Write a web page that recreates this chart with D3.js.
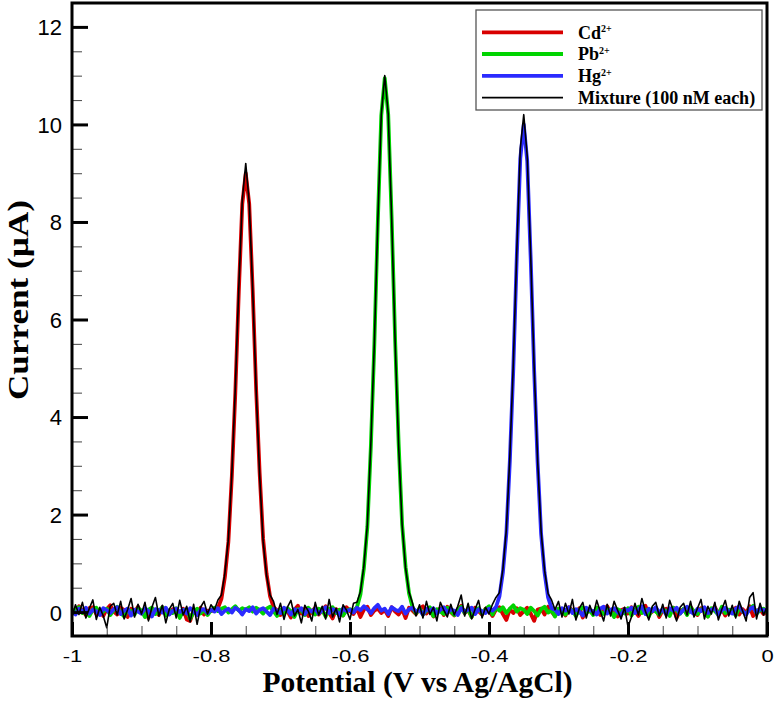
<!DOCTYPE html>
<html>
<head>
<meta charset="utf-8">
<script src="https://cdn.jsdelivr.net/npm/d3@7"></script>
<style>
  html, body { margin: 0; padding: 0; background: #fff; }
  svg { display: block; }
</style>
</head>
<body>
<svg id="chart" width="774" height="706"></svg>
<script>
// ---------- DATA ----------
// Potential grid: -1 V to 0 V in 0.005 V steps (201 points)
const potentialStart = -1;
const potentialStep = 0.005;

// Current (µA) for each series, one value per potential point
const cdCurrent = [
  0.05,-0.02,0.12,0.03,-0.06,0.08,0.10,-0.04,0.02,-0.08,
  0.06,0.14,0.01,-0.05,0.09,0.04,-0.10,0.07,0.00,0.11,
  -0.03,0.05,-0.12,0.08,0.02,-0.06,0.10,0.03,-0.04,0.06,
  0.01,-0.08,0.07,-0.15,-0.18,0.04,-0.02,0.09,-0.05,0.03,
  0.02,0.05,0.08,0.27,0.72,1.44,2.79,4.50,6.57,8.37,
  9.00,8.37,6.60,4.55,2.85,1.50,0.78,0.32,0.10,0.04,
  -0.06,0.08,0.02,-0.11,0.05,0.13,-0.03,0.07,-0.08,0.01,
  0.09,-0.05,0.04,0.12,-0.02,-0.13,0.06,0.03,-0.07,0.10,
  0.02,-0.04,0.08,-0.10,0.05,0.11,-0.06,0.03,0.07,-0.02,
  0.04,-0.08,0.10,0.01,-0.05,0.06,-0.12,0.09,0.03,-0.04,
  0.07,0.12,-0.03,0.05,-0.09,0.02,0.08,-0.06,0.11,0.00,
  -0.07,0.06,0.13,-0.02,0.04,-0.10,0.09,0.02,-0.05,0.07,
  0.03,-0.08,0.05,0.10,-0.04,-0.16,0.06,-0.02,0.08,-0.06,
  0.02,0.09,-0.03,-0.18,0.05,0.07,-0.05,0.11,0.01,-0.08,
  0.06,0.03,-0.07,0.10,0.04,-0.02,0.08,-0.11,0.05,0.02,
  -0.04,0.09,-0.06,0.03,0.12,-0.01,0.06,-0.09,0.04,0.07,
  -0.03,0.10,0.02,-0.08,0.05,0.13,-0.05,0.01,0.08,-0.10,
  0.04,0.07,-0.02,0.09,-0.12,0.03,0.06,-0.04,0.11,0.00,
  -0.06,0.08,0.02,-0.09,0.05,0.10,-0.03,0.07,-0.07,0.04,
  0.01,0.09,-0.05,0.06,-0.02,0.12,-0.08,0.03,0.05,-0.04,
  0.02
];

const pbCurrent = [
  -0.04,0.06,0.10,-0.02,0.03,-0.08,0.05,0.09,-0.03,0.01,
  0.07,-0.06,0.04,0.11,-0.01,-0.09,0.06,0.02,-0.05,0.08,
  0.03,-0.10,0.05,0.09,-0.04,0.02,0.10,-0.07,0.04,-0.02,
  0.08,-0.12,0.03,0.06,-0.14,0.01,0.07,-0.03,0.05,-0.06,
  0.04,0.09,0.02,0.07,0.10,-0.01,0.06,0.12,0.03,0.08,
  0.05,0.10,0.01,0.09,0.04,-0.03,0.07,0.11,0.02,-0.08,
  0.05,-0.04,0.08,0.02,-0.10,0.06,0.03,-0.06,0.09,0.01,
  -0.05,0.07,0.04,-0.09,0.06,0.10,-0.02,0.05,-0.07,0.03,
  0.06,0.02,0.10,0.36,0.90,1.75,3.39,5.48,7.99,10.18,
  10.95,10.20,8.05,5.55,3.45,1.80,0.92,0.38,0.10,-0.03,
  0.08,-0.05,0.03,0.10,-0.08,0.06,0.01,-0.04,0.09,0.02,
  -0.06,0.05,0.11,-0.02,0.07,-0.10,0.04,0.08,-0.03,0.06,
  0.12,-0.05,0.09,0.03,0.10,-0.02,0.07,0.14,0.01,0.08,
  0.05,-0.04,0.09,0.02,-0.07,0.06,0.11,-0.01,0.04,-0.09,
  0.07,0.02,-0.05,0.08,0.03,-0.08,0.05,0.10,-0.02,0.04,
  -0.06,0.09,0.01,-0.04,0.07,0.03,-0.10,0.06,0.02,-0.03,
  0.08,-0.07,0.04,0.11,-0.02,0.05,-0.09,0.07,0.01,-0.05,
  0.06,0.02,-0.08,0.09,0.04,-0.03,0.07,-0.06,0.10,0.01,
  -0.04,0.06,0.03,-0.09,0.08,0.02,-0.05,0.11,-0.02,0.05,
  0.03,-0.07,0.09,0.01,-0.04,0.06,0.13,-0.03,0.04,0.07,
  0.00
];

const hgCurrent = [
  0.03,-0.05,0.07,0.01,0.09,-0.03,0.05,0.02,-0.06,0.08,
  0.04,-0.02,0.06,0.10,-0.04,0.03,0.07,-0.07,0.05,0.01,
  -0.03,0.08,0.02,-0.09,0.06,0.04,-0.01,0.09,-0.05,0.03,
  0.07,0.00,0.05,-0.03,0.08,0.02,-0.06,0.04,0.06,-0.02,
  0.05,0.01,0.08,-0.04,0.03,0.07,-0.01,0.09,0.04,-0.05,
  0.06,0.02,0.10,-0.03,0.05,0.08,0.01,-0.06,0.07,0.03,
  -0.02,0.09,0.04,-0.05,0.06,0.02,0.08,-0.04,0.05,0.01,
  0.07,-0.03,0.04,0.10,-0.02,0.06,0.03,-0.07,0.08,0.02,
  0.05,-0.01,0.09,0.04,0.12,0.06,-0.02,0.08,0.15,0.03,
  0.07,-0.04,0.10,0.05,0.02,0.11,-0.03,0.06,0.09,0.01,
  0.04,-0.05,0.07,0.02,0.08,-0.03,0.05,0.10,-0.01,0.06,
  0.03,-0.06,0.08,0.01,0.05,0.09,-0.04,0.06,0.02,-0.02,
  0.07,0.03,0.10,0.32,0.82,1.62,3.10,5.00,7.30,9.30,
  10.00,9.25,7.25,4.95,3.05,1.60,0.80,0.30,0.08,0.05,
  -0.04,0.08,0.03,0.10,-0.02,0.06,0.01,-0.07,0.09,0.04,
  0.02,-0.05,0.07,0.11,-0.03,0.05,0.08,0.00,-0.06,0.06,
  0.03,0.09,-0.02,0.05,0.12,-0.04,0.07,0.02,0.10,-0.01,
  0.06,-0.05,0.08,0.03,0.09,-0.03,0.05,0.11,0.01,-0.04,
  0.07,0.02,0.10,-0.02,0.05,0.08,-0.06,0.04,0.09,0.01,
  -0.03,0.07,0.12,0.02,-0.05,0.06,0.10,-0.02,0.08,0.03,
  0.05
];

const mixCurrent = [
  -0.10,0.15,-0.05,0.20,-0.12,0.08,0.25,-0.15,0.10,-0.08,
  -0.32,0.12,0.18,-0.06,0.22,-0.14,0.05,0.28,-0.10,0.16,
  -0.04,0.20,-0.18,0.10,0.30,-0.08,0.14,-0.22,0.06,0.18,
  -0.12,0.24,-0.06,0.12,-0.20,0.16,-0.25,0.10,0.22,-0.04,
  0.15,0.05,0.25,0.35,0.80,1.50,2.85,4.60,6.65,8.45,
  9.20,8.40,6.60,4.55,2.80,1.45,0.75,0.35,0.22,-0.05,
  0.18,-0.15,0.10,0.24,-0.08,0.05,-0.22,0.14,0.02,-0.18,
  0.20,-0.06,0.12,-0.14,0.26,-0.10,0.08,-0.20,0.15,0.04,
  -0.15,0.18,0.20,0.42,0.95,1.80,3.45,5.50,8.00,10.20,
  11.00,10.22,8.05,5.52,3.40,1.78,0.90,0.40,0.18,-0.08,
  0.15,-0.12,0.22,-0.05,0.10,-0.18,0.20,0.04,-0.10,0.16,
  -0.06,0.12,0.35,-0.08,0.18,-0.14,0.06,0.24,-0.12,0.10,
  -0.04,0.16,0.30,0.40,0.88,1.70,3.20,5.10,7.40,9.50,
  10.20,9.35,7.30,5.00,3.10,1.65,0.85,0.38,0.25,0.05,
  0.22,-0.10,0.18,-0.04,0.26,-0.16,0.08,0.20,-0.12,0.14,
  -0.06,0.24,0.02,-0.18,0.16,-0.08,0.22,0.04,-0.14,0.10,
  -0.30,-0.10,0.18,-0.06,0.28,0.02,-0.16,0.12,0.20,-0.08,
  0.16,-0.12,0.24,0.04,-0.18,0.10,0.18,-0.06,0.22,-0.10,
  0.08,0.26,-0.14,0.12,-0.04,0.20,-0.16,0.06,0.24,-0.08,
  0.14,-0.12,0.22,0.02,-0.18,0.30,0.40,-0.14,0.18,-0.06,
  0.10
];

const seriesNames = ["Cd", "Pb", "Hg", "Mixture (100 nM each)"];
const seriesSup = ["2+", "2+", "2+", ""];
const seriesColors = ["#d80000", "#00d400", "#2b2bff", "#000000"];
const seriesWidths = [3.8, 3.8, 3.8, 1.6];
const seriesValues = [cdCurrent, pbCurrent, hgCurrent, mixCurrent];

const xMajorTicks = [-1, -0.8, -0.6, -0.4, -0.2, 0];
const xTickLabels = ["-1", "-0.8", "-0.6", "-0.4", "-0.2", "0"];
const yMajorTicks = [0, 2, 4, 6, 8, 10, 12];
const yTickLabels = ["0", "2", "4", "6", "8", "10", "12"];

// ---------- CHART ----------
const svg = d3.select("#chart");
const L = 72, R = 767, T = 3, B = 636;

const x = d3.scaleLinear().domain([-1, 0]).range([L, R]);
const y = d3.scaleLinear().domain([-0.49, 12.49]).range([B, T]);

const xMinor = d3.range(-1, 0.0001, 0.05).filter(v => !xMajorTicks.some(m => Math.abs(m - v) < 1e-6));
const yMinor = d3.range(0.5, 12.01, 0.5).filter(v => !yMajorTicks.some(m => Math.abs(m - v) < 1e-6));

// clip
svg.append("clipPath").attr("id", "plotclip")
  .append("rect").attr("x", L).attr("y", T).attr("width", R - L).attr("height", B - T);

// series
const line = d3.line()
  .x((d, i) => x(potentialStart + i * potentialStep))
  .y(d => y(d));

const plot = svg.append("g").attr("clip-path", "url(#plotclip)");
seriesValues.forEach((vals, k) => {
  plot.append("path")
    .datum(vals)
    .attr("fill", "none")
    .attr("stroke", seriesColors[k])
    .attr("stroke-width", seriesWidths[k])
    .attr("stroke-linejoin", "round")
    .attr("d", line);
});

// minor ticks
svg.append("g").attr("transform", `translate(0,${B})`)
  .call(d3.axisBottom(x).tickValues(xMinor).tickSize(-10).tickFormat(""))
  .call(g => g.select(".domain").remove())
  .call(g => g.selectAll("line").attr("stroke", "#555").attr("stroke-width", 1.1));
svg.append("g").attr("transform", `translate(${L},0)`)
  .call(d3.axisLeft(y).tickValues(yMinor).tickSize(-10).tickFormat(""))
  .call(g => g.select(".domain").remove())
  .call(g => g.selectAll("line").attr("stroke", "#555").attr("stroke-width", 1.1));

// major ticks + labels
const xAxis = svg.append("g").attr("transform", `translate(0,${B})`)
  .call(d3.axisBottom(x).tickValues(xMajorTicks).tickSize(-14)
    .tickFormat((d, i) => xTickLabels[i]))
  .call(g => g.select(".domain").remove());
xAxis.selectAll("line").attr("stroke", "#000").attr("stroke-width", 3);
xAxis.selectAll("text")
  .attr("y", 0).attr("dy", null)
  .attr("transform", "translate(0,25.7) scale(1,0.77)")
  .attr("font-family", "'Liberation Sans', Arial, sans-serif")
  .attr("font-size", 22).attr("fill", "#000");

const yAxis = svg.append("g").attr("transform", `translate(${L},0)`)
  .call(d3.axisLeft(y).tickValues(yMajorTicks).tickSize(-16).tickPadding(10)
    .tickFormat((d, i) => yTickLabels[i]))
  .call(g => g.select(".domain").remove());
yAxis.selectAll("line").attr("stroke", "#000").attr("stroke-width", 3);
yAxis.selectAll("text")
  .attr("dy", "0.36em")
  .attr("font-family", "'Liberation Sans', Arial, sans-serif")
  .attr("font-size", 22).attr("fill", "#000");

// frame
svg.append("rect")
  .attr("x", L).attr("y", T).attr("width", R - L).attr("height", B - T)
  .attr("fill", "none").attr("stroke", "#000").attr("stroke-width", 3);

// axis titles
svg.append("text")
  .attr("x", (L + R) / 2 - 2).attr("y", 692)
  .attr("text-anchor", "middle")
  .attr("font-family", "'Liberation Serif', 'Times New Roman', serif")
  .attr("font-weight", "bold").attr("font-size", 29.5)
  .text("Potential (V vs Ag/AgCl)");

svg.append("text")
  .attr("transform", "translate(28,300) rotate(-90)")
  .attr("text-anchor", "middle")
  .attr("font-family", "'Liberation Serif', 'Times New Roman', serif")
  .attr("font-weight", "bold").attr("font-size", 30)
  .attr("textLength", 200).attr("lengthAdjust", "spacingAndGlyphs")
  .text("Current (µA)");

// legend
const leg = svg.append("g");
leg.append("rect")
  .attr("x", 476).attr("y", 10).attr("width", 286).attr("height", 100)
  .attr("fill", "#fff").attr("stroke", "#555").attr("stroke-width", 1.3);
const legY = [32.3, 54, 75.8, 97.6];
seriesNames.forEach((name, k) => {
  leg.append("line")
    .attr("x1", 482).attr("x2", 563)
    .attr("y1", legY[k]).attr("y2", legY[k])
    .attr("stroke", seriesColors[k])
    .attr("stroke-width", k < 3 ? 3.8 : 1.8);
  const t = leg.append("text")
    .attr("x", 578).attr("y", legY[k] + 6.2)
    .attr("font-family", "'Liberation Serif', 'Times New Roman', serif")
    .attr("font-weight", "bold").attr("font-size", 18);
  t.append("tspan").text(name);
  if (seriesSup[k]) {
    t.append("tspan").attr("font-size", 10).attr("dy", -6.5).text(seriesSup[k]);
  }
});
</script>
</body>
</html>
